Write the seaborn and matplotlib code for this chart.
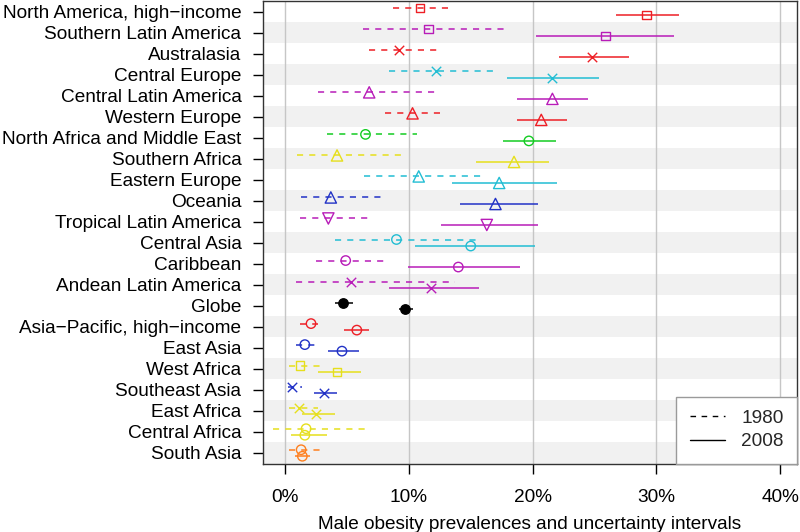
import matplotlib
matplotlib.use("Agg")
import matplotlib.pyplot as plt
from matplotlib.lines import Line2D
import seaborn as sns

# Regions, top to bottom
regions = ["North America, high\u2212income", "Southern Latin America", "Australasia",
           "Central Europe", "Central Latin America", "Western Europe",
           "North Africa and Middle East", "Southern Africa", "Eastern Europe",
           "Oceania", "Tropical Latin America", "Central Asia", "Caribbean",
           "Andean Latin America", "Globe", "Asia\u2212Pacific, high\u2212income",
           "East Asia", "West Africa", "Southeast Asia", "East Africa",
           "Central Africa", "South Asia"]

# 1980 estimates and uncertainty intervals (%)
val_1980 = [10.9, 11.6, 9.2, 12.2, 6.8, 10.3, 6.5, 4.2, 10.8, 3.7, 3.5,
            9.0, 4.9, 5.3, 4.7, 2.1, 1.6, 1.2, 0.6, 1.1, 1.7, 1.3]
lo_1980 = [8.7, 6.3, 6.8, 8.4, 2.7, 8.1, 3.4, 1.0, 6.4, 1.3, 1.2,
           4.0, 2.5, 0.9, 4.0, 1.2, 0.9, 0.35, 0.27, 0.3, -1.0, 0.35]
hi_1980 = [13.3, 18.0, 12.3, 16.8, 12.4, 12.7, 10.7, 9.7, 16.1, 7.9, 6.8,
           15.8, 8.1, 13.7, 5.5, 2.7, 2.4, 2.8, 1.35, 2.7, 6.6, 2.9]

# 2008 estimates and uncertainty intervals (%)
val_2008 = [29.2, 25.9, 24.8, 21.6, 21.6, 20.7, 19.7, 18.5, 17.3, 17.0, 16.3,
            15.0, 14.0, 11.8, 9.7, 5.8, 4.6, 4.2, 3.15, 2.5, 1.6, 1.4]
lo_2008 = [26.7, 20.3, 22.1, 17.9, 18.7, 18.7, 17.6, 15.4, 13.5, 14.1, 12.6,
           10.5, 9.9, 8.4, 9.2, 4.8, 3.5, 2.7, 2.3, 1.35, 0.5, 0.8]
hi_2008 = [31.8, 31.4, 27.8, 25.4, 24.5, 22.8, 21.9, 21.3, 22.0, 20.4, 20.4,
           20.2, 19.0, 15.7, 10.3, 6.8, 6.0, 6.1, 4.2, 4.0, 3.4, 2.0]

RED, MAG, CYA, GRN = "#ee1f26", "#b81cb8", "#22bdd3", "#13cc22"
YEL, BLU, ORA, BLK = "#e6df1c", "#2232c6", "#ff7f1e", "#000000"
colors = [RED, MAG, RED, CYA, MAG, RED, GRN, YEL, CYA, BLU, MAG,
          CYA, MAG, MAG, BLK, RED, BLU, YEL, BLU, YEL, YEL, ORA]
markers = ["s", "s", "x", "x", "^", "^", "o", "^", "^", "^", "v",
           "o", "o", "x", "o", "o", "o", "s", "x", "x", "o", "o"]
sizes = {"o": 46, "s": 36, "^": 66, "v": 66, "x": 46}

xticks = [0, 10, 20, 30, 40]
xticklabels = ["0%", "10%", "20%", "30%", "40%"]

FS = 13.7

sns.set_theme(style="white")
plt.rcParams["font.family"] = ["Liberation Sans", "DejaVu Sans"]

fig = plt.figure(figsize=(8, 5.32), dpi=100)
ax = fig.add_axes([263 / 800, 1 - 463.5 / 532, (797 - 263) / 800, 462.5 / 532])

# alternating background bands
for i in range(len(regions)):
    if i % 2 == 1:
        ax.axhspan(i - 0.5, i + 0.5, color="#f1f1f1", lw=0, zorder=0)
for xv in xticks:
    ax.axvline(xv, color="#c6c6c6", lw=1, zorder=1)

off = 0.155
for i, reg in enumerate(regions):
    c, m = colors[i], markers[i]
    ax.hlines(i - off, lo_1980[i], hi_1980[i], colors=c, lw=1.1,
              linestyles=(0, (4, 4)), zorder=2)
    ax.hlines(i + off, lo_2008[i], hi_2008[i], colors=c, lw=1.1, zorder=2)
    if reg == "Globe":
        kws = dict(color=c, edgecolor=c)
    elif m == "x":
        kws = dict(color=c)
    else:
        kws = dict(facecolor="none", edgecolor=c)
    for v, y in [(val_1980[i], i - off), (val_2008[i], i + off)]:
        sns.scatterplot(x=[v], y=[y], marker=m, s=sizes[m], linewidth=1.0,
                        legend=False, zorder=3, ax=ax, **kws)

ax.set_ylim(len(regions) - 0.5, -0.5)
ax.set_xlim(-1.78, 41.36)
ax.set_yticks(range(len(regions)))
ax.set_yticklabels(regions)
ax.set_xticks(xticks)
ax.set_xticklabels(xticklabels)
ax.tick_params(axis="y", length=7, width=1, color="black", pad=8.5,
               labelsize=FS, left=True, labelcolor="black")
ax.tick_params(axis="x", length=7.5, width=1, color="black", pad=11,
               labelsize=FS, bottom=True, labelcolor="black")
ax.set_xlabel("Male obesity prevalences and uncertainty intervals",
              fontsize=FS, color="black", labelpad=7)
ax.set_ylabel("")
for s in ax.spines.values():
    s.set_color("#333333")
    s.set_linewidth(1)

handles = [Line2D([], [], color="black", lw=1, linestyle=(0, (4, 4))),
           Line2D([], [], color="black", lw=1)]
leg = ax.legend(handles, ["1980", "2008"], loc="lower right", bbox_to_anchor=(1, 0),
                borderaxespad=0, fontsize=FS, frameon=True, fancybox=False,
                framealpha=1, edgecolor="#9a9a9a", borderpad=0.7,
                handlelength=1.85, handletextpad=0.85, labelspacing=0.3)
leg.get_frame().set_linewidth(1)
leg.set_zorder(5)

fig.savefig("out.png", dpi=100)
